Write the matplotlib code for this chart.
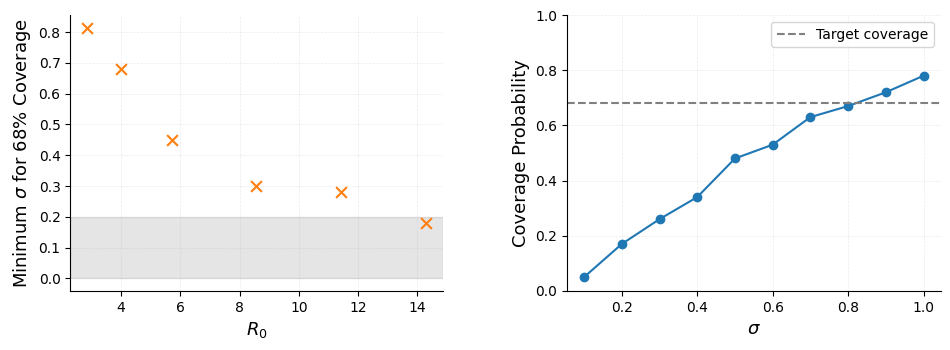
import numpy as np
import matplotlib
matplotlib.use("Agg")
import matplotlib.pyplot as plt

# left panel: minimum sigma needed per R0
r0_values = [2.857, 4.0, 5.714, 8.571, 11.429, 14.286]
min_sigma = [0.815, 0.68, 0.45, 0.30, 0.28, 0.18]

# right panel: coverage vs sigma
sigmas = [0.1, 0.2, 0.3, 0.4, 0.5, 0.6, 0.7, 0.8, 0.9, 1.0]
coverage = [0.05, 0.17, 0.26, 0.34, 0.48, 0.53, 0.63, 0.67, 0.72, 0.78]
target = 0.68

fig, (ax1, ax2) = plt.subplots(1, 2, figsize=(9.5, 3.5), dpi=100)

ax1.axhspan(0, 0.2, color='gray', alpha=0.2)
ax1.scatter(r0_values, min_sigma, marker='x', color='tab:orange', s=60, linewidths=1.5, zorder=3)
ax1.set_xlabel(r'$R_0$', fontsize=13)
ax1.set_ylabel(r'Minimum $\sigma$ for 68% Coverage', fontsize=13)
ax1.grid(True, linestyle='--', alpha=0.25, linewidth=0.5)

ax2.plot(sigmas, coverage, marker='o', color='tab:blue', markersize=6)
ax2.axhline(target, color='gray', linestyle='--', label='Target coverage')
ax2.set_ylim(0, 1)
ax2.set_xlabel(r'$\sigma$', fontsize=13)
ax2.set_ylabel('Coverage Probability', fontsize=13)
ax2.legend()
ax2.grid(True, linestyle='--', alpha=0.25, linewidth=0.5)

for ax in (ax1, ax2):
    ax.spines['top'].set_visible(False)
    ax.spines['right'].set_visible(False)

ax1.set_position([0.074, 0.169, 0.392, 0.788])
ax2.set_position([0.597, 0.169, 0.393, 0.788])
plt.savefig('out.png', dpi=100)
plt.close()
